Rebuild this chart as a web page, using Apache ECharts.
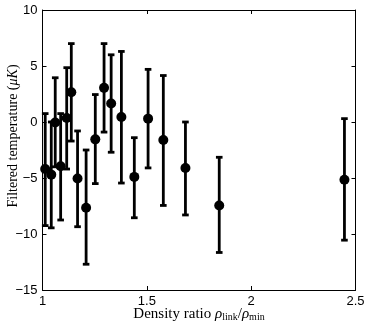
<!DOCTYPE html>
<html>
<head>
<meta charset="utf-8">
<script src="https://cdn.jsdelivr.net/npm/echarts@6/dist/echarts.min.js"></script>
<style>
  html, body { margin: 0; padding: 0; background: #fff; }
  #chart { width: 374px; height: 326px; }
</style>
</head>
<body>
<div id="chart"></div>
<script>
// density ratio (x), filtered temperature (y) and error bar ends
const densityRatio = [1.013, 1.042, 1.061, 1.087, 1.116, 1.138, 1.168, 1.209, 1.253,
  1.295, 1.329, 1.378, 1.440, 1.506, 1.579, 1.685, 1.847, 2.447]
const temperature = [-4.2, -4.7, -0.05, -3.95, 0.35, 2.65, -5.05, -7.65, -1.55,
  3.05, 1.65, 0.45, -4.9, 0.3, -1.6, -4.1, -7.45, -5.15]
const errLow = [-9.25, -9.45, -4.0, -8.75, -4.2, -1.7, -9.35, -12.7, -5.5,
  -0.9, -2.7, -5.45, -8.55, -4.1, -7.45, -8.3, -11.65, -10.55]
const errHigh = [0.75, 0.0, 3.95, 0.75, 4.85, 7.0, -0.8, -2.5, 2.45,
  7.0, 6.0, 6.3, -1.4, 4.7, 4.15, 0.0, -3.15, 0.3]

const xTicks = { min: 1, max: 2.5, interval: 0.5 }
const yTicks = { min: -15, max: 10, interval: 5 }

const serif = "'Liberation Serif', 'DejaVu Serif', serif"
const sans = "'Liberation Sans', Arial, sans-serif"

const chart = echarts.init(document.getElementById('chart'))

const boxAxis = {
  axisLine: { show: true, onZero: false, lineStyle: { color: '#000', width: 1 } },
  axisTick: { show: true, inside: true, length: 4, lineStyle: { color: '#000' } },
  splitLine: { show: false }
}

chart.setOption({
  animation: false,
  backgroundColor: '#fff',
  grid: { left: 42.5, right: 18.5, top: 10, bottom: 36, outerBoundsMode: 'none' },
  // y label placed by hand: it sits a bit above the plot middle in the original
  graphic: [{
    type: 'text',
    x: 13,
    y: 136,
    rotation: Math.PI / 2,
    style: {
      text: '{t|Filtered temperature (}{i|μK}{t|)}',
      align: 'center',
      verticalAlign: 'middle',
      rich: {
        t: { fontFamily: serif, fontSize: 14, fill: '#000' },
        i: { fontFamily: serif, fontSize: 14, fontStyle: 'italic', fill: '#000' }
      }
    }
  }],
  xAxis: [
    {
      type: 'value', ...xTicks, ...boxAxis,
      axisLabel: {
        color: '#000', fontFamily: sans, fontSize: 13, margin: 5,
        formatter: v => String(v)
      },
      name: '{t|Density ratio }{r|ρ}{s|link}{t|/}{r|ρ}{s|min}',
      nameLocation: 'middle',
      nameGap: 16,
      nameMoveOverlap: false,
      nameTextStyle: {
        rich: {
          t: { fontFamily: serif, fontSize: 15, color: '#000' },
          r: { fontFamily: serif, fontSize: 15, fontStyle: 'italic', color: '#000' },
          s: { fontFamily: serif, fontSize: 10, color: '#000', padding: [6, 0, 0, 0] }
        }
      }
    },
    { type: 'value', position: 'top', ...xTicks, ...boxAxis, axisLabel: { show: false } }
  ],
  yAxis: [
    {
      type: 'value', ...yTicks, ...boxAxis,
      axisLabel: {
        color: '#000', fontFamily: sans, fontSize: 13, margin: 5,
        formatter: v => (v < 0 ? '\u2212' + Math.abs(v) : String(v))
      }
    },
    { type: 'value', position: 'right', ...yTicks, ...boxAxis, axisLabel: { show: false } }
  ],
  series: [
    {
      // error bars with caps
      type: 'custom',
      data: densityRatio.map((x, i) => [x, errLow[i], errHigh[i]]),
      renderItem: (params, api) => {
        const top = api.coord([api.value(0), api.value(2)])
        const bot = api.coord([api.value(0), api.value(1)])
        const cap = 3.3
        const style = { stroke: '#000', lineWidth: 2.8 }
        return {
          type: 'group',
          children: [
            { type: 'line', shape: { x1: top[0], y1: top[1], x2: bot[0], y2: bot[1] }, style },
            { type: 'line', shape: { x1: top[0] - cap, y1: top[1], x2: top[0] + cap, y2: top[1] }, style },
            { type: 'line', shape: { x1: bot[0] - cap, y1: bot[1], x2: bot[0] + cap, y2: bot[1] }, style }
          ]
        }
      },
      z: 2
    },
    {
      type: 'scatter',
      data: densityRatio.map((x, i) => [x, temperature[i]]),
      symbol: 'circle',
      symbolSize: 10,
      itemStyle: { color: '#000', opacity: 1 },
      z: 3
    }
  ]
})
</script>
</body>
</html>
